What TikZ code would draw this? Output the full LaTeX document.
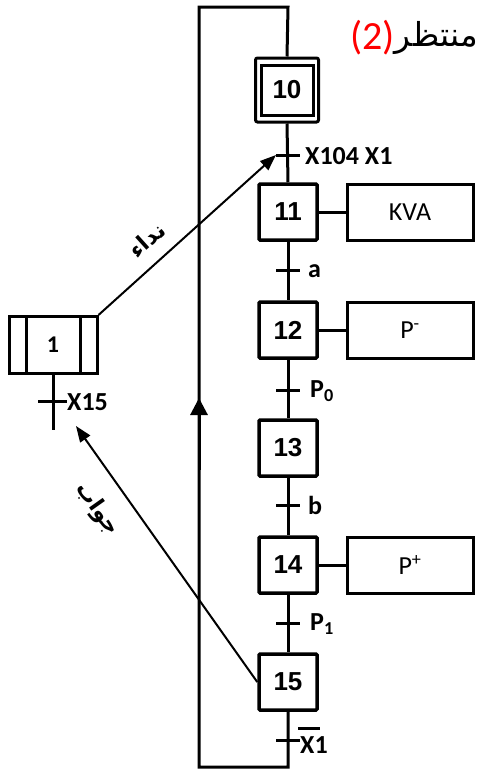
\documentclass[tikz,border=0pt]{standalone}
\usepackage{fontspec}
\setmainfont{Carlito}
\newfontfamily\arialf{Liberation Sans}
\newfontfamily\arabicfont[Script=Arabic]{DejaVu Sans}
\TeXXeTstate=1
\usetikzlibrary{arrows.meta}
\begin{document}
\begin{tikzpicture}[x=1pt,y=-1pt,
  stepbox/.style={draw,line width=3.5pt,minimum width=58pt,minimum height=56pt,inner sep=0pt,font=\arialf\fontsize{26}{26}\selectfont\bfseries,rounded corners=1pt},
  actbox/.style={draw,line width=3pt,minimum width=126pt,minimum height=56pt,inner sep=0pt,font=\fontsize{26}{26}\selectfont},
  link/.style={line width=3pt},
  tick/.style={line width=3pt},
  tlabel/.style={anchor=west,inner sep=0pt,font=\fontsize{26}{26}\selectfont\bfseries},
  diag/.style={line width=2pt,-{Triangle[length=16pt,width=12pt]}}]
\useasboundingbox (0,0) rectangle (478,771);
% step 10 (initial)
\node[draw,line width=3pt,minimum width=63pt,minimum height=64pt,rounded corners=2pt] (s10o) at (287,90) {};
\node[stepbox,line width=3pt,minimum width=52pt,minimum height=50pt,rounded corners=0pt] (s10) at (287,90) {10};
% steps
\node[stepbox] (s11) at (288,212) {11};
\node[stepbox] (s12) at (288,330) {12};
\node[stepbox] (s13) at (288,448) {13};
\node[stepbox] (s14) at (288,565) {14};
\node[stepbox] (s15) at (288,682) {15};
% actions
\node[actbox] (a11) at (410,212) {KVA};
\node[actbox] (a12) at (410,330) {P\textsuperscript{-}};
\node[actbox] (a14) at (410,565) {P\textsuperscript{+}};
\draw[link] (s11.east) -- (a11.west);
\draw[link] (s12.east) -- (a12.west);
\draw[link] (s14.east) -- (a14.west);
% transitions
\coordinate (t10) at (288,155);
\coordinate (t11) at (288,270);
\coordinate (t12) at (288,390);
\coordinate (t13) at (288,505);
\coordinate (t14) at (288,623);
\coordinate (t15) at (288,740);
\coordinate (t10l) at (276,155);
\draw[link] (s10o.south) -- (s11.north);
\draw[link] (s11.south) -- (s12.north);
\draw[link] (s12.south) -- (s13.north);
\draw[link] (s13.south) -- (s14.north);
\draw[link] (s14.south) -- (s15.north);
\foreach \t in {t10,t11,t12,t13,t14,t15}
  \draw[tick] ([xshift=-12pt]\t) -- ([xshift=12pt]\t);
\node[tlabel] (l10) at (305,156) {X104 X1};
\node[tlabel] (l11) at (308,271) {a};
\node[tlabel] (l12) at (310,391) {P\textsubscript{0}};
\node[tlabel] (l13) at (308,505) {b};
\node[tlabel] (l14) at (310,624) {P\textsubscript{1}};
\node[tlabel] (l15) at (300,745) {X1};
\draw[line width=3pt] (298,728) -- (320,728);
% loop
\coordinate (c1) at (288,767);
\coordinate (c2) at (199,767);
\coordinate (c3) at (199,7);
\coordinate (c4) at (288,7);
\coordinate (c5) at (199,470);
\coordinate (c6) at (199,398);
\draw[link] (s15.south) -- (c1) -- (c2) -- (c3) -- (c4) -- (s10o.north);
\draw[link,-{Triangle[length=17pt,width=17pt]}] (c5) -- (c6);
% step 1
\node[draw,line width=3pt,minimum width=88pt,minimum height=57pt,inner sep=0pt,font=\fontsize{24}{24}\selectfont\bfseries] (s1) at (53,345) {1};
\draw[line width=3pt] (26,316) -- (26,374);
\draw[line width=3pt] (80,316) -- (80,374);
\coordinate (s1b) at (53,430);
\draw[link] (s1.south) -- (s1b);
\coordinate (t1) at (53,401);
\draw[tick] ([xshift=-15pt]t1) -- ([xshift=14pt]t1);
\node[tlabel] (l1) at (67,402) {X15};
% communication arrows
\coordinate (x15a) at (76,426);
\draw[diag] (s1.north east) -- (t10l);
\draw[diag] (s15.west) -- (x15a);
\node[rotate=42,inner sep=0pt,font=\arabicfont\fontsize{22}{22}\selectfont\bfseries] (n1) at (147,240) {\beginR نداء\endR};
\node[rotate=-54.7,inner sep=0pt,font=\arabicfont\fontsize{22}{22}\selectfont\bfseries] (n2) at (97,509) {\beginR جواب\endR};
% title
\node[anchor=east,inner sep=0pt,font=\arabicfont\fontsize{33}{33}\selectfont] (ttl) at (478,38) {\beginR منتظر\endR};
\node[anchor=east,inner sep=0pt,text=red,font=\fontsize{40}{40}\selectfont] (ttn) at (ttl.west) {(2)};
\end{tikzpicture}
\end{document}
